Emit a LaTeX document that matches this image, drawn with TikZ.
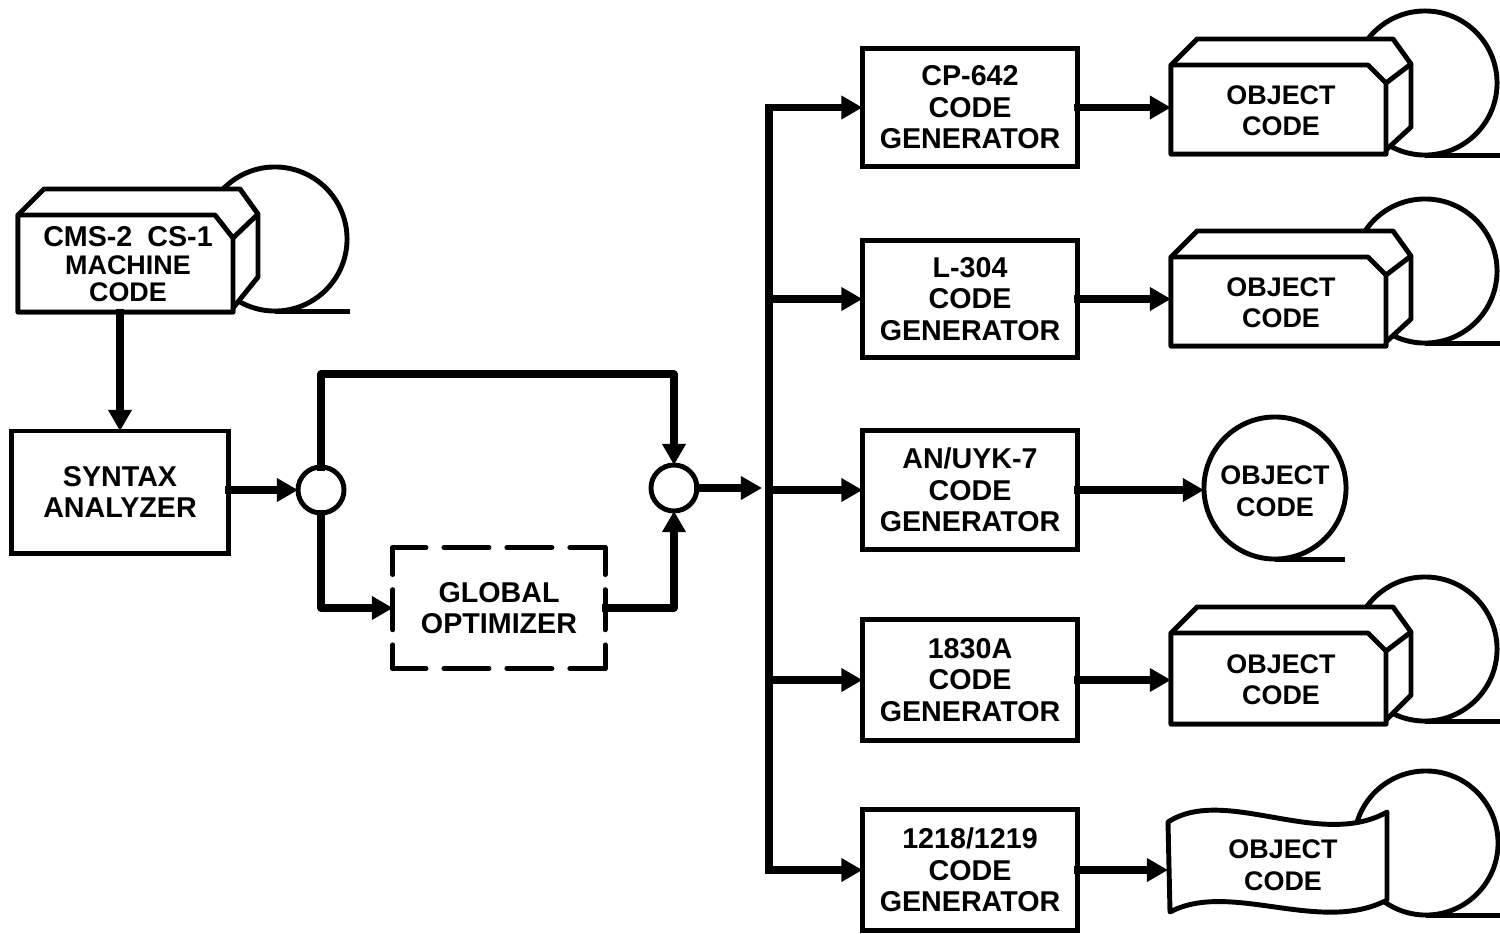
\documentclass[tikz,border=0pt]{standalone}
\usepackage{fontspec}
\setmainfont{Liberation Sans}
\usetikzlibrary{arrows.meta}
\newcommand{\tapeunit}[7]{%
  \begin{scope}[shift={(#2,#3)}]
    \node[reel] (#1reel) at (#5) {};
    \draw[line] (#1reel.south) -- ++(75,0);
    \draw[line, fill=white] (0,0) -- (26,-26) -- (222,-26) -- (240,-1) -- (240,62) -- (215,#4-4) -- (215,#4) -- (0,#4) -- cycle;
    \draw[line, fill=white] (0,0) -- (197,0) -- (215,#7) -- (215,#4) -- (0,#4) -- cycle;
    \draw[line] (215,#7) -- (240,-1);
    \node[blktxt, minimum width=2.2cm, minimum height={#4*0.01cm}] (#1) at (110,#4/2+1) {#6};
  \end{scope}}
\begin{document}
\begin{tikzpicture}[x=0.01cm, y=-0.01cm,
  line/.style={line width=1.4pt, line join=round},
  blktxt/.style={rectangle, inner sep=0pt, outer sep=0pt, align=center, font=\fontsize{7.65}{8.95}\selectfont\bfseries},
  blk/.style={rectangle, draw=black, fill=white, line width=1.4pt, inner sep=0pt, outer sep=0pt, align=center, font=\fontsize{8.15}{8.95}\selectfont\bfseries},
  gen/.style={blk, minimum width=2.15cm},
  reel/.style={circle, draw=black, fill=white, line width=1.4pt, minimum size=1.44cm, inner sep=0pt, outer sep=0pt},
  junc/.style={circle, draw=black, fill=white, line width=1.4pt, minimum size=0.46cm, inner sep=0pt, outer sep=0pt},
  bus/.style={line width=2pt, line join=round, line cap=rect},
  flow/.style={bus, -{Triangle[length=6pt, width=6.4pt]}},
  dashh/.style={line, line cap=round, dash pattern=on 9.4pt off 5.1pt on 12.8pt off 5.1pt on 12.8pt off 5.1pt on 9.4pt off 0pt},
  dashv/.style={line, line cap=round, dash pattern=on 7.7pt off 4.3pt on 11.4pt off 4.3pt on 7.1pt off 0pt}]
\useasboundingbox (0,0) rectangle (1500,933);
% source
\tapeunit{src}{18}{215}{97}{257,24}{\fontsize{8.15}{8.95}\selectfont CMS-2\hspace{2pt}\ CS-1\\[-1.1pt]MACHINE\\[-1.1pt]CODE}{23}
\node[blk, minimum width=2.16cm, minimum height=1.22cm] (syntax) at (120,492) {SYNTAX\\ANALYZER};
\node[junc] (split) at (321,490) {};
\node[junc] (merge) at (674,488) {};
\node[blktxt, font=\fontsize{8.15}{8.95}\selectfont\bfseries, minimum width=2.12cm, minimum height=1.21cm] (opt) at (499,608) {GLOBAL\\OPTIMIZER};
\draw[dashh] (opt.north west) -- (opt.north east);
\draw[dashh] (opt.south west) -- (opt.south east);
\draw[dashv] (opt.north west) -- (opt.south west);
\draw[dashv] (opt.north east) -- (opt.south east);
\draw[flow] (src.south -| syntax.north) -- (syntax.north);
\draw[flow] (syntax.east |- split.west) -- (split.west);
\draw[flow] (split.north) |- (674,374) -- (merge.north);
\draw[flow] (split.south) |- (opt.west);
\draw[flow] (opt.east) -| (merge.south);
% generators
\node[gen, minimum height=1.18cm] (g1) at (970,107.5) {CP-642\\CODE\\GENERATOR};
\node[gen, minimum height=1.17cm] (g2) at (970,299) {L-304\\CODE\\GENERATOR};
\node[gen, minimum height=1.19cm] (g3) at (970,490) {AN/UYK-7\\CODE\\GENERATOR};
\node[gen, minimum height=1.21cm] (g4) at (970,680) {1830A\\CODE\\GENERATOR};
\node[gen, minimum height=1.21cm] (g5) at (970,870) {1218/1219\\CODE\\GENERATOR};
\coordinate (busin) at (762,488);
\coordinate (busx) at (769,488);
\draw[flow] (merge.east) -- (busin);
\draw[bus] (busx |- g1.west) -- (busx |- g5.west);
\foreach \n in {g1,g2,g3,g4,g5} {
  \draw[flow] (busx |- \n.west) -- (\n.west);
}
% object code
\tapeunit{ob1}{1171}{65}{89}{254,18}{OBJECT\\CODE}{18}
\tapeunit{ob2}{1171}{257}{89}{254,14}{OBJECT\\CODE}{18}
\tapeunit{ob4}{1171}{633}{91}{254,16}{OBJECT\\CODE}{18}
\node[reel, minimum size=1.42cm] (ob3) at (1275,488) {};
\node[blktxt] (ob3txt) at (1275,491) {OBJECT\\CODE};
\draw[line] (ob3.south) -- ++(70,0);
\node[reel] (ob5reel) at (1426,843) {};
\draw[line] (ob5reel.south) -- ++(75,0);
\draw[line, fill=white] (1168,822) .. controls (1225,785) and (1320,850) .. (1387,812) -- (1387,900) .. controls (1320,935) and (1230,880) .. (1170,912) -- cycle;
\node[blktxt] (ob5) at (1283,865) {OBJECT\\CODE};
\coordinate (ob5in) at (1168,868);
\draw[flow] (g1.east) -- (ob1.west |- g1.east);
\draw[flow] (g2.east) -- (ob2.west |- g2.east);
\draw[flow] (g3.east) -- (g3.east -| ob3.west);
\draw[flow] (g4.east) -- (ob4.west |- g4.east);
\draw[flow] (g5.east) -- (ob5in |- g5.east);
\end{tikzpicture}
\end{document}
